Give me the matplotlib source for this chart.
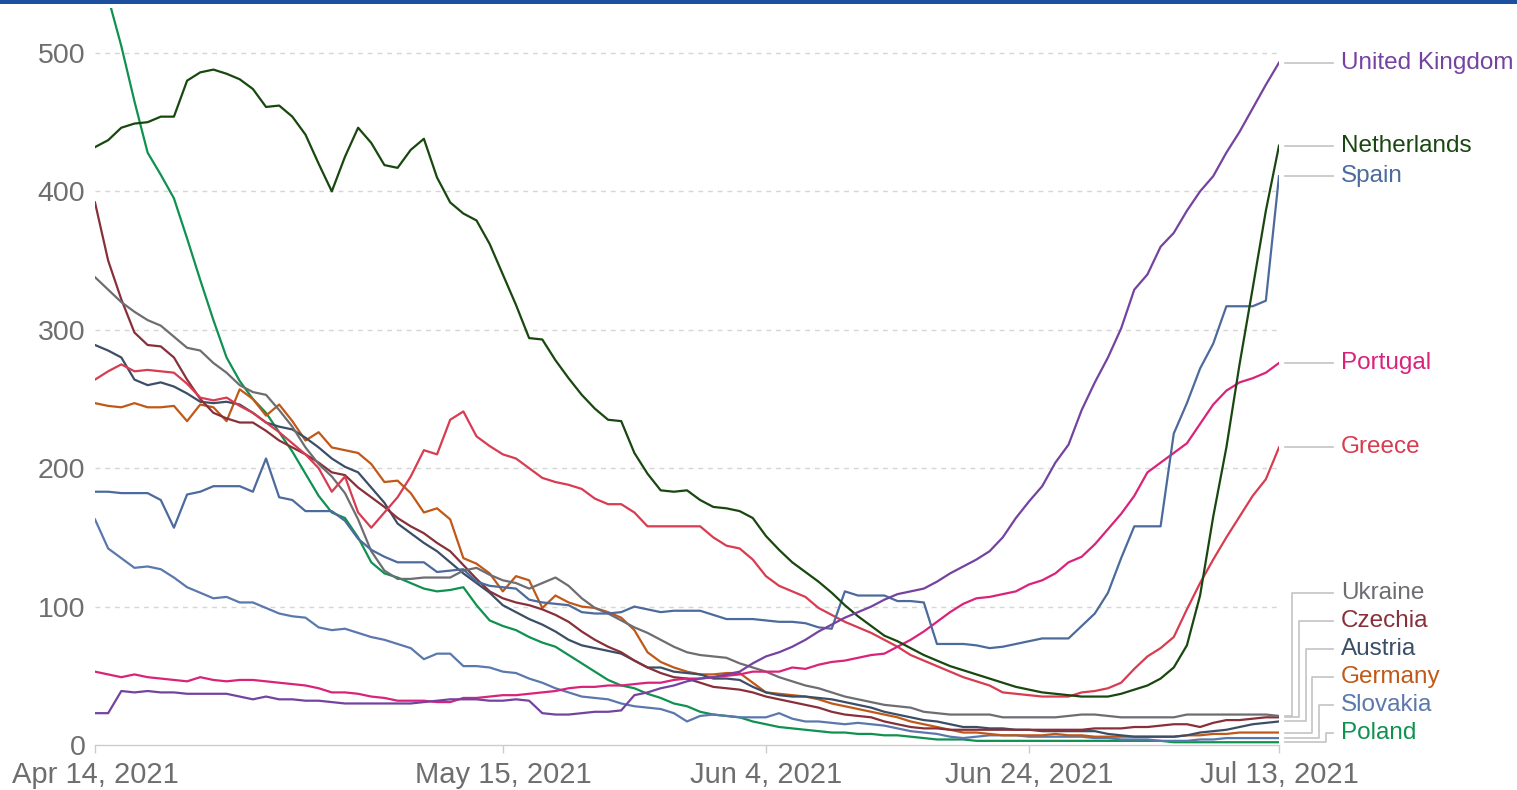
import matplotlib
matplotlib.use("Agg")
import matplotlib.pyplot as plt
import matplotlib.dates as mdates
import pandas as pd
from matplotlib.patches import Rectangle

plt.rcParams["font.family"] = ["Liberation Sans", "DejaVu Sans"]

# daily values, Apr 14 - Jul 13 2021
dates = pd.date_range("2021-04-14", "2021-07-13", freq="D")
tick_dates = pd.to_datetime(["2021-04-14", "2021-05-15", "2021-06-04", "2021-06-24", "2021-07-13"])
tick_labels = ["Apr 14, 2021", "May 15, 2021", "Jun 4, 2021", "Jun 24, 2021", "Jul 13, 2021"]
y_ticks = [0, 100, 200, 300, 400, 500]

united_kingdom = [
    23, 23, 39, 38, 39, 38, 38, 37, 37, 37,
    37, 35, 33, 35, 33, 33, 32, 32, 31, 30,
    30, 30, 30, 30, 30, 31, 32, 33, 33, 33,
    32, 32, 33, 32, 23, 22, 22, 23, 24, 24,
    25, 36, 38, 41, 43, 46, 48, 49, 51, 53,
    59, 64, 67, 71, 76, 82, 87, 92, 96, 100,
    105, 109, 111, 113, 118, 124, 129, 134, 140, 150,
    164, 176, 187, 204, 217, 242, 262, 280, 301, 329,
    340, 360, 370, 386, 400, 411, 428, 443, 460, 477,
    493,
]
netherlands = [
    432, 437, 446, 449, 450, 454, 454, 480, 486, 488,
    485, 481, 474, 461, 462, 454, 441, 420, 400, 425,
    446, 435, 419, 417, 430, 438, 410, 392, 384, 379,
    362, 340, 318, 294, 293, 278, 265, 253, 243, 235,
    234, 211, 196, 184, 183, 184, 177, 172, 171, 169,
    164, 151, 141, 132, 125, 118, 110, 101, 93, 86,
    79, 75, 70, 65, 61, 57, 54, 51, 48, 45,
    42, 40, 38, 37, 36, 35, 35, 35, 37, 40,
    43, 48, 56, 72, 108, 165, 215, 275, 330, 386,
    433,
]
spain = [
    183, 183, 182, 182, 182, 177, 157, 181, 183, 187,
    187, 187, 183, 207, 179, 177, 169, 169, 169, 162,
    149, 141, 136, 132, 132, 132, 125, 126, 127, 118,
    115, 114, 113, 105, 103, 102, 101, 96, 95, 95,
    96, 100, 98, 96, 97, 97, 97, 94, 91, 91,
    91, 90, 89, 89, 88, 85, 84, 111, 108, 108,
    108, 104, 104, 103, 73, 73, 73, 72, 70, 71,
    73, 75, 77, 77, 77, 86, 95, 110, 135, 158,
    158, 158, 225, 247, 272, 290, 317, 317, 317, 321,
    411,
]
portugal = [
    53, 51, 49, 51, 49, 48, 47, 46, 49, 47,
    46, 47, 47, 46, 45, 44, 43, 41, 38, 38,
    37, 35, 34, 32, 32, 32, 31, 31, 34, 34,
    35, 36, 36, 37, 38, 39, 41, 42, 42, 43,
    43, 44, 45, 45, 47, 48, 48, 49, 50, 51,
    53, 53, 53, 56, 55, 58, 60, 61, 63, 65,
    66, 71, 76, 82, 89, 96, 102, 106, 107, 109,
    111, 116, 119, 124, 132, 136, 145, 156, 167, 180,
    197, 204, 211, 218, 232, 246, 256, 262, 265, 269,
    276,
]
greece = [
    264, 270, 275, 270, 271, 270, 269, 261, 251, 249,
    251, 245, 240, 233, 226, 218, 210, 200, 183, 194,
    168, 157, 168, 179, 194, 213, 210, 235, 241, 223,
    216, 210, 207, 200, 193, 190, 188, 185, 178, 174,
    174, 168, 158, 158, 158, 158, 158, 150, 144, 142,
    134, 122, 115, 111, 107, 99, 94, 89, 85, 81,
    76, 71, 65, 61, 57, 53, 49, 46, 43, 38,
    37, 36, 35, 35, 35, 38, 39, 41, 45, 55,
    64, 70, 78, 98, 117, 134, 150, 165, 180, 192,
    215,
]
ukraine = [
    338, 329, 320, 313, 307, 303, 295, 287, 285, 276,
    269, 260, 255, 253, 242, 230, 215, 203, 194, 182,
    163, 140, 126, 120, 120, 121, 121, 121, 126, 128,
    123, 119, 117, 113, 117, 121, 115, 106, 99, 95,
    90, 85, 81, 76, 71, 67, 65, 64, 63, 59,
    56, 53, 49, 46, 43, 41, 38, 35, 33, 31,
    29, 28, 27, 24, 23, 22, 22, 22, 22, 20,
    20, 20, 20, 20, 21, 22, 22, 21, 20, 20,
    20, 20, 20, 22, 22, 22, 22, 22, 22, 22,
    21,
]
czechia = [
    392, 350, 322, 298, 289, 288, 280, 264, 250, 240,
    236, 233, 233, 227, 220, 215, 210, 204, 197, 195,
    186, 179, 172, 164, 158, 153, 146, 140, 130, 120,
    111, 106, 103, 101, 98, 94, 89, 82, 76, 71,
    67, 61, 56, 52, 49, 48, 45, 42, 41, 40,
    38, 35, 33, 31, 29, 27, 24, 22, 21, 20,
    17, 15, 13, 12, 12, 11, 11, 11, 11, 11,
    11, 11, 11, 11, 11, 11, 12, 12, 12, 13,
    13, 14, 15, 15, 13, 16, 18, 18, 19, 20,
    20,
]
austria = [
    289, 285, 280, 264, 260, 262, 259, 254, 248, 247,
    248, 246, 240, 233, 230, 228, 222, 215, 207, 201,
    197, 186, 175, 160, 153, 146, 140, 132, 124, 117,
    110, 101, 96, 91, 87, 82, 76, 72, 70, 68,
    66, 61, 56, 56, 53, 52, 51, 48, 48, 47,
    42, 38, 36, 35, 35, 34, 33, 31, 29, 27,
    24, 22, 20, 18, 17, 15, 13, 13, 12, 12,
    11, 11, 10, 10, 10, 10, 10, 8, 7, 6,
    6, 6, 6, 7, 9, 10, 11, 13, 15, 16,
    17,
]
germany = [
    247, 245, 244, 247, 244, 244, 245, 234, 246, 244,
    234, 257, 250, 238, 246, 234, 220, 226, 215, 213,
    211, 203, 190, 191, 182, 168, 171, 163, 135, 131,
    124, 111, 122, 119, 99, 108, 103, 100, 99, 96,
    92, 83, 67, 60, 56, 53, 51, 51, 52, 52,
    45, 38, 37, 36, 35, 33, 30, 28, 26, 24,
    22, 20, 17, 15, 13, 11, 9, 9, 8, 7,
    7, 7, 7, 8, 7, 7, 6, 6, 6, 6,
    6, 6, 6, 7, 7, 8, 8, 9, 9, 9,
    9,
]
slovakia = [
    163, 142, 135, 128, 129, 127, 121, 114, 110, 106,
    107, 103, 103, 99, 95, 93, 92, 85, 83, 84,
    81, 78, 76, 73, 70, 62, 66, 66, 57, 57,
    56, 53, 52, 48, 45, 41, 38, 35, 34, 33,
    30, 28, 27, 26, 23, 17, 21, 22, 21, 20,
    20, 20, 23, 19, 17, 17, 16, 15, 16, 15,
    14, 12, 10, 9, 8, 6, 5, 6, 7, 7,
    7, 6, 6, 6, 6, 6, 5, 5, 4, 4,
    4, 3, 3, 3, 4, 4, 5, 5, 5, 5,
    5,
]
poland = [
    575, 540, 505, 465, 428, 412, 395, 366, 336, 307,
    280, 263, 250, 240, 226, 212, 196, 180, 168, 164,
    150, 132, 124, 121, 117, 113, 111, 112, 114, 101,
    90, 86, 83, 78, 74, 71, 65, 59, 53, 47,
    43, 41, 37, 34, 30, 28, 24, 22, 21, 20,
    17, 15, 13, 12, 11, 10, 9, 9, 8, 8,
    7, 7, 6, 5, 4, 4, 4, 3, 3, 3,
    3, 3, 3, 3, 3, 3, 3, 3, 3, 3,
    3, 3, 2, 2, 2, 2, 2, 2, 2, 2,
    2,
]

series = [
    ("Poland", poland, "#0f9150"),
    ("Slovakia", slovakia, "#5B78AD"),
    ("Germany", germany, "#C05917"),
    ("Austria", austria, "#3C4E66"),
    ("Czechia", czechia, "#883039"),
    ("Ukraine", ukraine, "#6D6D72"),
    ("Greece", greece, "#D73C50"),
    ("Portugal", portugal, "#D9237A"),
    ("Spain", spain, "#4C6A9C"),
    ("Netherlands", netherlands, "#18470F"),
    ("United Kingdom", united_kingdom, "#7443A0"),
]
# labels that follow the line end; the rest are stacked at the bottom
top_group = ["United Kingdom", "Netherlands", "Spain", "Portugal", "Greece"]
bottom_group = ["Poland", "Slovakia", "Germany", "Austria", "Czechia", "Ukraine"]

W, H = 1517, 790
fig = plt.figure(figsize=(W / 100, H / 100), dpi=100)
ax = fig.add_axes([95 / W, 45 / H, 1184 / W, 737 / H])
fig.add_artist(Rectangle((0, 1 - 4 / H), 1, 4 / H, transform=fig.transFigure,
                         color="#1d4f9f", lw=0))

for y in y_ticks[1:]:
    ax.axhline(y, color="#d6d6d6", lw=1.0, dashes=(3.5, 3.5), zorder=0)

for name, values, color in series:
    ax.plot(dates, values, color=color, lw=1.6, solid_joinstyle="round", zorder=2)

ax.set_xlim(dates[0], dates[-1])
ax.set_ylim(0, 532.5)
for side in ["top", "right", "left"]:
    ax.spines[side].set_visible(False)
ax.spines["bottom"].set_color("#cccccc")
ax.spines["bottom"].set_linewidth(1.0)
ax.set_yticks(y_ticks)
ax.set_xticks(tick_dates)
ax.set_xticklabels(tick_labels)
ax.tick_params(axis="y", length=0, pad=7, labelsize=20.5, labelcolor="#6e6e6e")
ax.tick_params(axis="x", length=6, width=1, color="#cccccc", pad=5.5,
               labelsize=21, labelcolor="#6e6e6e")

# right-hand labels with connector lines
x_end = mdates.date2num(dates[-1])
days_per_px = (mdates.date2num(dates[-1]) - mdates.date2num(dates[0])) / 1184


def px(offset):
    return x_end + offset * days_per_px


line_color = "#c4c4c4"
for name, values, color in series:
    end = values[-1]
    if name in top_group:
        y_lab = end
        ax.plot([px(6), px(54)], [end, end], color=line_color, lw=1.2, clip_on=False)
    else:
        k = bottom_group.index(name)
        y_lab = 8.7 + 20.2 * k
        elbow = 47 - 6.8 * k
        ax.plot([px(6), px(elbow), px(elbow), px(54)], [end, end, y_lab, y_lab],
                color=line_color, lw=1.2, clip_on=False)
    ax.text(px(62), y_lab, name, color=color, fontsize=17.5, va="center",
            ha="left", clip_on=False)

fig.savefig("out.png", dpi=100)
